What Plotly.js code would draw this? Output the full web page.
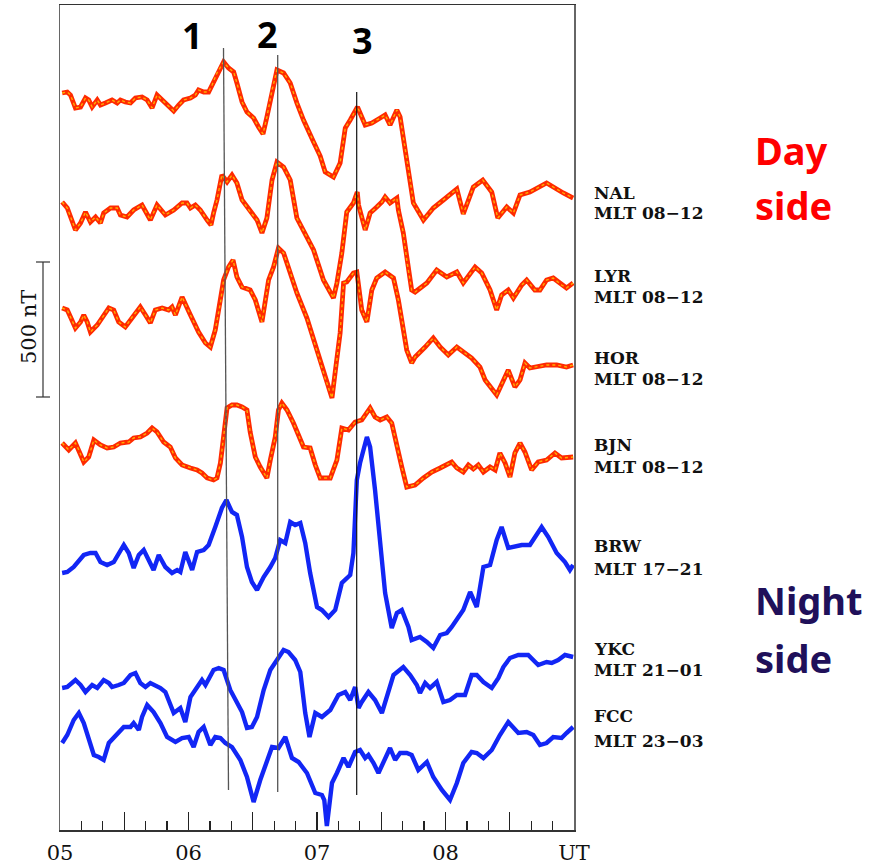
<!DOCTYPE html>
<html><head><meta charset="utf-8">
<script src="https://cdn.plot.ly/plotly-3.0.1.min.js"></script>
<style>html,body{margin:0;padding:0;background:#fff}#chart{width:873px;height:864px}</style>
</head><body><div id="chart"></div>
<script>
// Times: minutes after 05:00 UT.  Deflections: scale units, 135 units = 500 nT (positive = up).
const tNAL = [1.0,3.4,4.9,7.2,9.6,11.9,13.4,15.0,17.4,18.9,21.2,24.3,26.7,28.2,30.5,32.9,35.2,38.3,40.7,43.0,45.3,46.9,49.2,53.1,55.4,57.7,60.9,63.2,64.7,67.1,69.4,71.0,73.3,76.4,78.7,81.1,82.6,85.0,87.3,90.4,92.7,94.8,96.6,99.0,101.3,104.4,107.5,110.6,113.7,118.4,121.5,123.8,127.7,130.8,133.2,135.5,138.9,142.5,145.6,149.5,151.8,154.1,157.3,158.8,161.1,163.5,165.0,169.7,174.3,179.0,185.3,188.3,193.0,197.4,201.6,204.4,208.6,211.7,214.8,219.4,227.2,235.0,239.6];
const NAL = [7,8,5,-8,-7,2,0,-7,0,-5,-3,0,-3,0,-2,-3,2,3,0,-8,5,2,-3,-11,-5,0,2,5,10,8,8,15,27,38,32,28,17,-2,-12,-18,-27,-34,-17,10,30,27,17,-3,-20,-42,-56,-72,-77,-63,-28,-20,-7,-25,-23,-18,-15,-25,-10,-17,-47,-80,-103,-120,-108,-100,-89,-114,-87,-80,-92,-118,-107,-113,-95,-92,-83,-93,-98];

const tLYR = [1.0,3.4,7.2,9.6,11.9,14.2,16.6,18.9,20.4,23.6,26.7,28.2,31.3,34.4,38.3,42.2,45.3,49.2,53.1,57.0,59.3,60.9,63.2,65.5,68.7,70.5,71.7,73.3,75.6,78.0,80.3,82.6,85.0,88.8,92.0,94.3,96.6,99.0,101.3,104.4,107.5,110.6,115.3,118.4,123.0,127.7,129.3,131.6,133.9,137.0,138.8,139.4,142.5,144.8,147.9,150.3,151.8,154.1,157.3,158.0,160.3,161.9,164.2,165.8,171.3,175.9,180.6,185.3,188.3,193.8,196.9,200.8,203.9,206.2,209.3,211.7,215.6,217.9,221.7,224.1,227.2,230.3,234.2,236.5,239.6];
const LYR = [8,2,-20,-13,-2,-12,-7,-13,-3,2,2,-5,-7,0,5,-10,5,-5,0,7,7,2,5,0,-10,-15,-3,10,35,28,35,27,10,-2,-10,-23,-8,30,48,43,30,-8,-27,-40,-70,-88,-73,-43,-2,7,18,5,-20,-3,3,8,13,7,12,0,-23,-50,-80,-82,-73,-60,-67,-62,-73,-57,-63,-80,-100,-85,-80,-88,-75,-70,-80,-80,-70,-68,-75,-78,-73];

const tHOR = [1.0,3.4,4.9,7.2,9.6,11.1,12.7,14.2,17.4,20.4,22.8,25.1,27.4,30.5,33.7,37.5,39.9,42.2,44.5,47.7,50.7,52.3,53.9,57.0,60.9,64.7,67.9,70.2,72.5,74.9,76.4,78.7,80.8,82.6,85.0,88.8,91.2,94.3,97.4,99.7,102.0,104.4,107.5,110.6,115.3,118.4,121.5,123.8,127.0,128.5,130.8,132.4,133.9,137.0,138.6,140.9,143.3,145.6,147.9,151.8,155.7,158.0,160.3,161.9,164.2,165.8,170.5,174.3,177.5,181.3,185.3,189.1,192.2,196.1,198.5,203.9,207.0,209.3,212.4,214.8,217.1,219.4,227.2,231.9,236.5,239.6];
const HOR = [2,0,-7,-18,-12,-5,-12,-22,-15,-5,2,0,-12,-17,-7,3,-5,-13,0,2,0,3,-5,13,-5,-22,-33,-37,-20,7,30,43,50,33,23,20,10,-12,30,43,62,57,38,17,-8,-30,-52,-68,-88,-62,-23,27,28,37,38,0,-12,20,32,38,32,10,-17,-40,-53,-47,-37,-28,-37,-45,-37,-43,-48,-57,-70,-85,-70,-60,-77,-70,-53,-58,-55,-55,-57,-55];

const tBJN = [1.0,4.1,7.2,8.8,11.1,13.4,15.8,18.9,22.0,25.1,28.2,32.1,34.4,37.5,40.7,43.0,45.3,48.4,51.5,53.9,57.0,60.9,64.0,66.3,68.7,71.7,73.3,74.9,76.4,78.0,80.3,82.6,85.0,87.3,88.8,91.2,93.5,96.6,98.2,100.5,102.0,103.6,106.0,109.0,113.7,116.8,119.2,121.5,126.2,129.3,131.6,134.7,137.8,140.9,144.8,147.1,149.5,152.6,154.9,157.3,159.6,161.9,165.8,169.7,173.6,177.5,182.9,185.3,188.3,190.7,193.0,195.3,197.7,200.8,203.2,205.4,207.8,210.1,212.4,214.8,217.1,220.2,223.3,227.2,231.1,234.2,239.6];
const BJN = [7,0,7,0,-12,-7,10,5,2,3,7,8,12,13,17,22,18,8,3,-8,-15,-18,-20,-23,-28,-30,-28,-13,13,42,45,45,43,40,18,-7,-17,-28,-10,13,40,47,40,27,3,2,-15,-28,-28,-10,22,20,28,30,42,33,30,33,27,3,-17,-37,-35,-28,-22,-18,-12,-18,-22,-15,-19,-15,-22,-17,-20,-3,-13,-27,-3,7,-2,-20,-12,-10,-3,-8,-7];

const tBRW = [1.0,3.4,6.4,11.1,14.2,16.6,18.9,22.0,25.1,29.8,32.1,34.4,36.8,39.1,41.4,43.7,46.1,49.2,52.3,54.7,56.2,58.5,61.7,64.0,67.1,69.4,72.5,75.6,77.7,80.3,82.6,85.0,87.3,89.6,92.0,95.1,98.2,100.5,102.8,105.2,107.5,109.8,112.2,114.5,116.8,120.0,122.3,125.4,128.5,131.6,135.5,137.0,138.6,140.1,143.3,144.8,147.1,149.5,151.8,154.9,157.3,159.6,162.7,164.2,168.1,171.3,174.3,177.5,180.6,182.9,188.3,191.5,194.6,197.7,200.8,203.9,206.2,209.3,212.4,215.6,219.4,221.7,224.9,228.0,231.9,235.8,238.1,239.6];
const BRW = [-3,-2,3,15,17,17,8,5,8,25,17,2,15,20,10,0,15,3,-3,0,-2,18,0,18,20,25,43,62,70,58,55,33,3,-12,-20,-7,3,12,30,27,48,45,47,27,-3,-37,-40,-47,-40,-13,-5,17,90,107,133,123,80,23,-23,-58,-43,-40,-57,-70,-67,-72,-78,-65,-63,-57,-40,-22,-37,3,5,30,43,22,23,25,25,33,43,33,17,8,0,5];

const tYKC = [1.0,3.4,7.2,9.6,11.9,15.0,17.4,20.4,22.8,24.3,27.4,29.8,32.9,35.2,37.5,39.9,42.2,44.5,46.9,49.2,53.1,56.2,58.5,60.9,64.0,66.3,67.9,71.7,74.1,76.4,79.5,82.6,85.0,87.3,89.6,92.0,95.1,98.2,101.3,104.4,106.7,109.8,112.2,114.5,116.5,119.2,122.3,126.2,130.0,133.2,135.5,137.8,139.4,140.9,144.0,147.1,150.3,152.6,155.7,160.3,163.5,166.6,168.1,170.5,172.8,175.9,179.0,182.1,185.3,189.1,192.2,194.6,197.7,201.6,204.7,207.0,210.1,214.0,218.6,223.3,227.2,229.6,232.6,235.8,239.6];
const YKC = [2,3,10,5,-2,5,2,10,7,3,5,7,15,17,7,3,7,5,2,-2,-23,-18,-32,-7,2,10,5,20,22,20,0,-12,-22,-38,-37,-27,0,20,30,40,38,30,18,-23,-47,-23,-27,-20,-5,-2,-10,3,-18,-12,-2,-10,-23,-7,15,23,15,5,-3,7,2,8,-12,-10,-5,-5,15,15,8,2,12,23,32,35,35,25,28,27,30,35,33];

const tFCC = [1.0,3.4,6.4,8.8,11.1,13.4,15.8,18.1,20.4,22.8,25.1,27.4,29.8,32.9,34.4,36.8,38.3,40.7,43.7,46.9,50.0,53.9,57.0,60.1,62.4,64.7,67.1,70.2,72.5,74.9,77.2,80.3,84.2,87.3,90.4,93.5,96.6,99.0,102.0,105.2,108.3,111.4,115.3,119.2,122.3,123.4,124.6,125.9,127.0,129.3,132.4,134.7,137.8,140.1,142.5,144.0,146.4,148.7,151.8,154.1,156.5,158.8,161.9,164.2,167.3,171.3,174.3,178.3,182.1,185.3,188.3,192.2,194.6,197.7,201.6,205.4,209.3,211.7,214.0,217.9,221.0,224.1,227.2,230.3,234.2,236.5,239.6];
const FCC = [-3,5,20,27,17,0,-15,-17,-20,-3,2,8,13,13,17,10,23,35,28,17,3,-2,2,3,-7,8,13,-5,3,2,-3,-7,-20,-37,-62,-40,-23,-7,-8,3,-18,-22,-33,-53,-55,-60,-86,-60,-43,-33,-18,-27,-12,-10,-18,-15,-23,-33,-20,-8,-20,-13,-13,-15,-30,-22,-37,-50,-60,-43,-23,-12,-13,-18,-10,5,18,13,7,8,5,-5,-3,3,2,7,13];

const stations   = ['NAL','LYR','HOR','BJN','BRW','YKC','FCC'];
const mltLabels  = ['MLT 08−12','MLT 08−12','MLT 08−12','MLT 08−12','MLT 17−21','MLT 21−01','MLT 23−03'];
const sides      = ['day','day','day','day','night','night','night'];
const stackLevel = [100,210,310,450,570,690,740];   // baseline of each trace, scale units from top
const times  = [tNAL,tLYR,tHOR,tBJN,tBRW,tYKC,tFCC];
const values = [NAL,LYR,HOR,BJN,BRW,YKC,FCC];

const tickTimes  = [0,30,60,90,120,150,180,210,240];
const tickLabels = ['05','','06','','07','','08','','UT'];
const eventLabels = ['1','2','3'];

// --- layout geometry helpers (pixel -> paper) ---
const L = 60, R = 574, T = 5, B = 830;
const px = x => (x - L) / (R - L);
const py = y => (B - y) / (B - T);

const traces = [];
stations.forEach((s, i) => {
  const y = values[i].map(v => v - stackLevel[i]);
  if (sides[i] === 'day') {
    traces.push({x: times[i], y, mode: 'lines', hoverinfo: 'skip',
      line: {color: '#ff2a00', width: 4.8}});
    traces.push({x: times[i], y, mode: 'lines', hoverinfo: 'skip',
      line: {color: '#ffc400', width: 1.4, dash: 'dot'}, opacity: 0.85});
  } else {
    traces.push({x: times[i], y, mode: 'lines', hoverinfo: 'skip',
      line: {color: '#1226f5', width: 4.4}});
  }
});

const labelY = [[193,213],[276,297],[358,379],[445,467],[546,569],[649,670],[716,741]];
const labFont = {family: 'DejaVu Serif', size: 17, color: '#111', weight: 'bold'};
const annotations = [];
stations.forEach((s, i) => {
  annotations.push({xref: 'paper', yref: 'paper', x: px(592), y: py(labelY[i][0]), text: '<b>' + s + '</b>',
    showarrow: false, xanchor: 'left', yanchor: 'middle', font: labFont});
  annotations.push({xref: 'paper', yref: 'paper', x: px(592), y: py(labelY[i][1]), text: '<b>' + mltLabels[i] + '</b>',
    showarrow: false, xanchor: 'left', yanchor: 'middle', font: labFont});
});
const sideFont = (c) => ({family: 'Noto Sans', size: 38, color: c});
annotations.push({xref:'paper',yref:'paper',x:px(753),y:py(150),text:'<b>Day</b>',showarrow:false,xanchor:'left',yanchor:'middle',font:sideFont('#ff0000')});
annotations.push({xref:'paper',yref:'paper',x:px(753),y:py(205),text:'<b>side</b>',showarrow:false,xanchor:'left',yanchor:'middle',font:sideFont('#ff0000')});
annotations.push({xref:'paper',yref:'paper',x:px(753),y:py(600),text:'<b>Night</b>',showarrow:false,xanchor:'left',yanchor:'middle',font:sideFont('#20105a')});
annotations.push({xref:'paper',yref:'paper',x:px(753),y:py(658),text:'<b>side</b>',showarrow:false,xanchor:'left',yanchor:'middle',font:sideFont('#20105a')});
const evPos = [[192.6,35],[267,34],[362,41]];
eventLabels.forEach((e, i) => {
  annotations.push({xref:'paper',yref:'paper',x:px(evPos[i][0]),y:py(evPos[i][1]),text:'<b>'+e+'</b>',showarrow:false,
    xanchor:'center',yanchor:'middle',font:{family:'Noto Sans',size:36,color:'#000'}});
});
annotations.push({xref:'paper',yref:'paper',x:px(29),y:py(327),text:'500 nT',textangle:-90,showarrow:false,
  xanchor:'center',yanchor:'middle',font:{family:'DejaVu Serif',size:21,color:'#111'}});

const shapes = [
  // event lines
  {type:'line',xref:'paper',yref:'paper',x0:px(223.5),y0:py(48),x1:px(228.5),y1:py(790),line:{color:'#555',width:1.3}},
  {type:'line',xref:'paper',yref:'paper',x0:px(277.7),y0:py(55),x1:px(277.7),y1:py(792),line:{color:'#555',width:1.3}},
  {type:'line',xref:'paper',yref:'paper',x0:px(356.7),y0:py(92),x1:px(356.7),y1:py(795),line:{color:'#111',width:1.2}},
  // 500 nT scale bar
  {type:'line',xref:'paper',yref:'paper',x0:px(43),y0:py(262),x1:px(43),y1:py(397),line:{color:'#333',width:1.2}},
  {type:'line',xref:'paper',yref:'paper',x0:px(36),y0:py(262),x1:px(50),y1:py(262),line:{color:'#333',width:1.2}},
  {type:'line',xref:'paper',yref:'paper',x0:px(36),y0:py(397),x1:px(50),y1:py(397),line:{color:'#333',width:1.2}}
];

const layout = {
  width: 873, height: 864,
  margin: {l: L, r: 873 - R, t: T, b: 864 - B, pad: 0},
  paper_bgcolor: '#fff', plot_bgcolor: '#fff',
  showlegend: false,
  xaxis: {range: [0, 240], showgrid: false, zeroline: false,
    showline: true, mirror: true, linecolor: '#333', linewidth: 1.5,
    tickmode: 'array', tickvals: tickTimes, ticktext: tickLabels,
    ticks: 'inside', ticklen: 18, tickwidth: 1.3, tickcolor: '#222',
    minor: {dtick: 10, tick0: 0, ticks: 'inside', ticklen: 9, tickwidth: 1.3, tickcolor: '#222', showgrid: false},
    ticklabelstandoff: 3,
    tickfont: {family: 'DejaVu Serif', size: 21, color: '#111'}},
  yaxis: {range: [-B, -T], showgrid: false, zeroline: false, showticklabels: false, ticks: '',
    showline: true, mirror: true, linecolor: '#666', linewidth: 1.5},
  annotations, shapes
};
Plotly.newPlot('chart', traces, layout, {staticPlot: true, displayModeBar: false});
</script></body></html>
